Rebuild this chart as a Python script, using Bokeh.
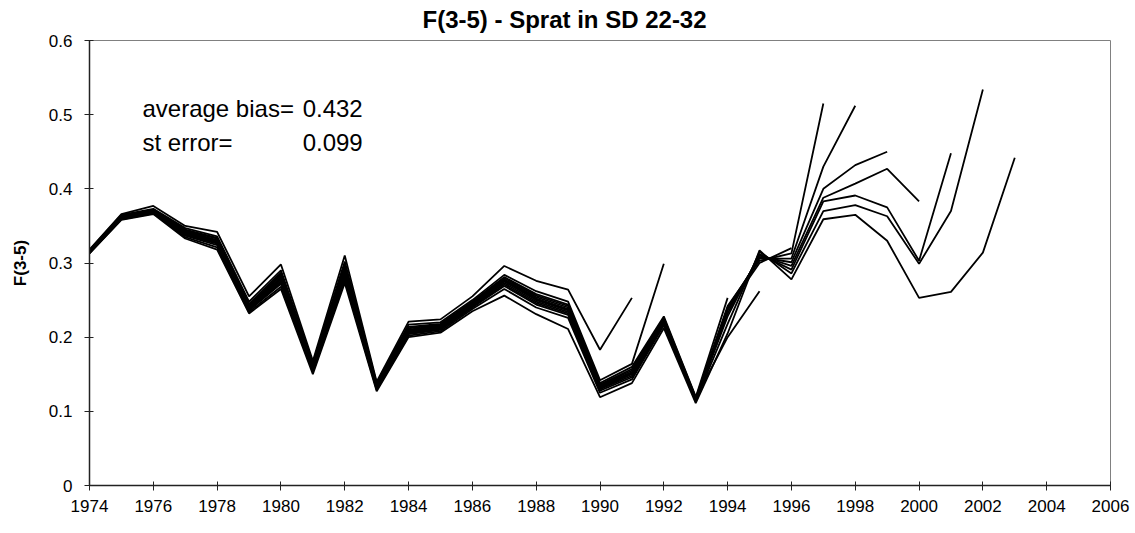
from bokeh.plotting import figure
from bokeh.models import FixedTicker, CustomJSTickFormatter, Label, Range1d
from bokeh.embed import file_html
from bokeh.resources import INLINE

title_text = "F(3-5) - Sprat in SD 22-32"
y_label = "F(3-5)"
x_ticks = list(range(1974, 2007, 2))
y_ticks = [0, 0.1, 0.2, 0.3, 0.4, 0.5, 0.6]
bias_label = "average bias="
bias_value = "0.432"
se_label = "st error="
se_value = "0.099"

start_year = 1974
# retrospective runs, named by terminal year; values from 1974 onward
run_1991 = [0.318, 0.366, 0.377, 0.350, 0.342, 0.255, 0.298, 0.168, 0.310, 0.140, 0.221, 0.224,
            0.255, 0.296, 0.276, 0.264, 0.183, 0.253]
run_1992 = [0.317, 0.365, 0.373, 0.347, 0.336, 0.248, 0.290, 0.165, 0.302, 0.138, 0.217, 0.220,
            0.250, 0.284, 0.262, 0.248, 0.142, 0.164, 0.299]
run_1993 = [0.317, 0.364, 0.372, 0.345, 0.334, 0.245, 0.287, 0.163, 0.298, 0.137, 0.214, 0.218,
            0.248, 0.281, 0.258, 0.244, 0.138, 0.160, 0.228, 0.120]
run_1994 = [0.316, 0.364, 0.371, 0.344, 0.333, 0.243, 0.285, 0.162, 0.296, 0.136, 0.212, 0.217,
            0.247, 0.280, 0.256, 0.242, 0.136, 0.157, 0.226, 0.119, 0.253]
run_1995 = [0.316, 0.363, 0.371, 0.343, 0.331, 0.242, 0.283, 0.161, 0.293, 0.135, 0.210, 0.216,
            0.246, 0.278, 0.254, 0.240, 0.135, 0.155, 0.224, 0.118, 0.200, 0.262]
run_1996 = [0.315, 0.362, 0.370, 0.342, 0.330, 0.241, 0.281, 0.160, 0.291, 0.134, 0.209, 0.215,
            0.245, 0.277, 0.252, 0.238, 0.134, 0.153, 0.223, 0.118, 0.238, 0.300, 0.320]
run_1997 = [0.315, 0.362, 0.370, 0.341, 0.329, 0.240, 0.279, 0.159, 0.289, 0.133, 0.208, 0.214,
            0.244, 0.276, 0.251, 0.237, 0.133, 0.152, 0.222, 0.117, 0.242, 0.303, 0.313, 0.515]
run_1998 = [0.315, 0.361, 0.369, 0.340, 0.328, 0.239, 0.278, 0.158, 0.287, 0.133, 0.207, 0.213,
            0.243, 0.275, 0.250, 0.236, 0.132, 0.151, 0.221, 0.117, 0.240, 0.306, 0.306, 0.430,
            0.512]
run_1999 = [0.314, 0.361, 0.369, 0.339, 0.327, 0.238, 0.276, 0.157, 0.285, 0.132, 0.206, 0.212,
            0.242, 0.273, 0.248, 0.234, 0.131, 0.150, 0.220, 0.116, 0.236, 0.308, 0.301, 0.400,
            0.432, 0.450]
run_2000 = [0.314, 0.360, 0.368, 0.338, 0.326, 0.237, 0.274, 0.156, 0.283, 0.131, 0.205, 0.211,
            0.241, 0.271, 0.246, 0.232, 0.130, 0.148, 0.219, 0.115, 0.232, 0.310, 0.296, 0.388,
            0.407, 0.427, 0.383]
run_2001 = [0.314, 0.360, 0.368, 0.337, 0.324, 0.236, 0.272, 0.155, 0.280, 0.130, 0.204, 0.210,
            0.240, 0.269, 0.244, 0.230, 0.128, 0.146, 0.218, 0.115, 0.228, 0.312, 0.291, 0.383,
            0.391, 0.375, 0.303, 0.448]
run_2002 = [0.313, 0.359, 0.367, 0.335, 0.321, 0.234, 0.268, 0.153, 0.277, 0.129, 0.202, 0.208,
            0.238, 0.265, 0.240, 0.226, 0.125, 0.143, 0.216, 0.114, 0.218, 0.315, 0.286, 0.370,
            0.378, 0.363, 0.299, 0.370, 0.534]
run_2003 = [0.313, 0.358, 0.366, 0.333, 0.318, 0.232, 0.265, 0.150, 0.273, 0.127, 0.200, 0.206,
            0.235, 0.256, 0.231, 0.211, 0.119, 0.138, 0.212, 0.111, 0.205, 0.317, 0.278, 0.359,
            0.365, 0.330, 0.253, 0.261, 0.314, 0.442]

runs = [run_1991, run_1992, run_1993, run_1994, run_1995, run_1996, run_1997,
        run_1998, run_1999, run_2000, run_2001, run_2002, run_2003]

FONT = "Liberation Sans"

p = figure(width=1130, height=528, x_range=Range1d(1974, 2006), y_range=Range1d(0, 0.6),
           output_backend="svg", toolbar_location=None,
           min_border_left=89, min_border_right=20, min_border_top=40, min_border_bottom=43)
p.background_fill_color = "white"
p.border_fill_color = "white"
p.outline_line_color = "#808080"
p.outline_line_width = 1
p.grid.visible = False

p.title.text = title_text
p.title.align = "left"
p.title.offset = 333
p.title.text_font = FONT
p.title.text_font_size = "24px"
p.title.text_font_style = "bold"
p.title.text_color = "black"
p.title.vertical_align = "top"
p.title.standoff = 11

for r in runs:
    yrs = list(range(start_year, start_year + len(r)))
    p.line(yrs, r, line_color="black", line_width=1.8)

p.xaxis.ticker = FixedTicker(ticks=x_ticks)
p.yaxis.ticker = FixedTicker(ticks=y_ticks)
p.yaxis.formatter = CustomJSTickFormatter(code="return tick.toFixed(1).replace(/\\.0$/, '');")
for ax in (p.xaxis[0], p.yaxis[0]):
    ax.axis_line_color = "#222222"
    ax.axis_line_width = 1.5
    ax.major_tick_line_color = "#222222"
    ax.major_tick_in = 4
    ax.major_tick_out = 5
    ax.minor_tick_line_color = None
    ax.major_label_text_font = FONT
    ax.major_label_text_font_size = "17px"
    ax.major_label_text_color = "black"
p.xaxis.major_label_standoff = 9
p.yaxis.major_label_standoff = 12

p.yaxis.axis_label = y_label
p.yaxis.axis_label_text_font = FONT
p.yaxis.axis_label_text_font_size = "17px"
p.yaxis.axis_label_text_font_style = "bold"
p.yaxis.axis_label_text_color = "black"
p.yaxis.axis_label_standoff = 16

common = dict(text_font=FONT, text_font_size="24px", text_color="black", text_baseline="middle")
p.add_layout(Label(x=1975.66, y=0.508, text=bias_label, **common))
p.add_layout(Label(x=1980.68, y=0.508, text=bias_value, **common))
p.add_layout(Label(x=1975.66, y=0.4625, text=se_label, **common))
p.add_layout(Label(x=1980.68, y=0.4625, text=se_value, **common))

open("out.html", "w").write(file_html(p, INLINE))
